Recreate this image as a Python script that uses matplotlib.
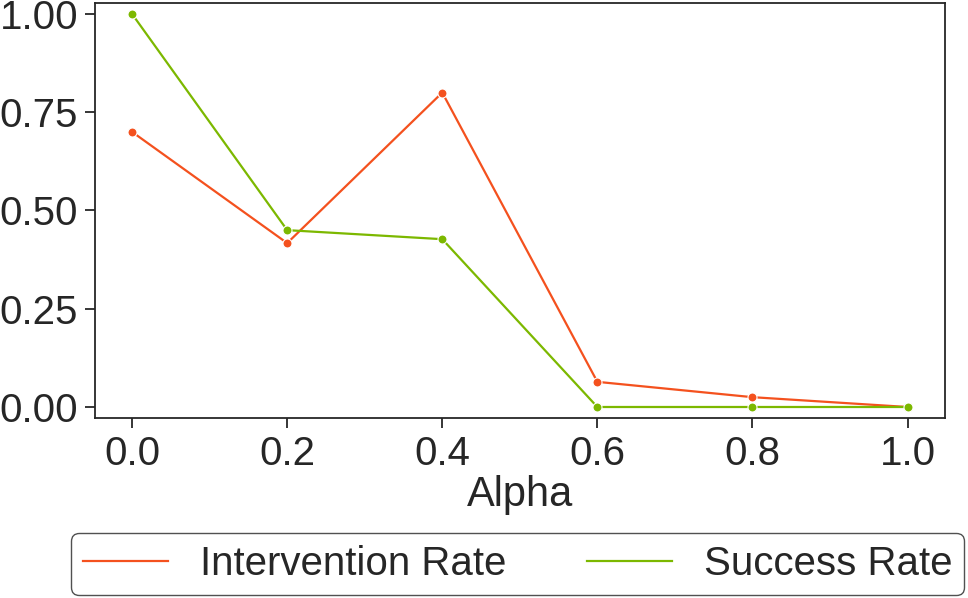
import matplotlib
matplotlib.use("Agg")
import matplotlib.pyplot as plt

alpha = [0.0, 0.2, 0.4, 0.6, 0.8, 1.0]
intervention_rate = [0.70, 0.417, 0.80, 0.064, 0.025, 0.0]
success_rate = [1.0, 0.45, 0.427, 0.0, 0.0, 0.0]
labels = ["Intervention Rate", "Success Rate"]
colors = ["#F4511E", "#7CB800"]

plt.rcParams['font.family'] = ['Liberation Sans', 'DejaVu Sans']
text_color = "#262626"

fig = plt.figure(figsize=(9.68, 5.98), dpi=100)
ax = fig.add_axes([0.098, 0.301, 0.878, 0.694])

for ys, lab, c in zip([intervention_rate, success_rate], labels, colors):
    ax.plot(alpha, ys, color=c, lw=1.6, marker='o', markersize=6.5,
            markeredgecolor='white', markeredgewidth=0.8, label=lab)

ax.set_xlim(-0.048, 1.048)
ax.set_ylim(-0.028, 1.028)
ax.set_xticks(alpha)
ax.set_xticklabels([f"{v:.1f}" for v in alpha])
ax.set_yticks([0, 0.25, 0.5, 0.75, 1.0])
ax.set_yticklabels([f"{v:.2f}" for v in [0, 0.25, 0.5, 0.75, 1.0]])
ax.tick_params(labelsize=29, colors=text_color, length=7, width=1.3, pad=5)
for s in ax.spines.values():
    s.set_color(text_color)
    s.set_linewidth(1.3)
ax.set_xlabel("Alpha", fontsize=30, color=text_color, labelpad=2)

h, l = ax.get_legend_handles_labels()
leg = fig.legend(h, l, loc='center', bbox_to_anchor=(0.535, 0.0575), ncol=2,
                 fontsize=29, frameon=True, handlelength=2.1, columnspacing=2.0,
                 handletextpad=0.8, borderpad=0.3, borderaxespad=0.0, fancybox=True)
for line in leg.get_lines():
    line.set_marker('')
leg.get_frame().set_edgecolor(text_color)
leg.get_frame().set_linewidth(1.0)
for t in leg.get_texts():
    t.set_color(text_color)

fig.savefig("out.png", dpi=100)
